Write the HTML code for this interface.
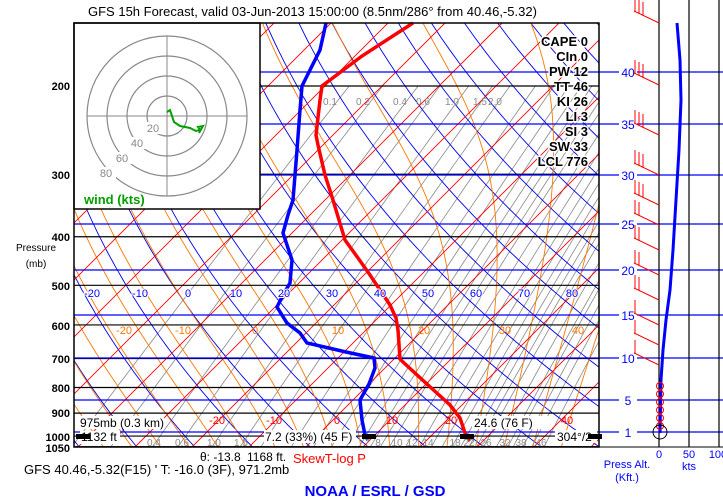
<!DOCTYPE html>
<html><head><meta charset="utf-8"><style>
html,body{margin:0;padding:0;background:#fff;width:723px;height:503px;overflow:hidden}
svg{display:block}
text{font-family:"Liberation Sans",sans-serif}
</style></head><body>
<svg id="s" width="723" height="503" xmlns="http://www.w3.org/2000/svg">
<defs><clipPath id="c"><rect x="74" y="23" width="525" height="424"/></clipPath></defs>
<g id="grid" clip-path="url(#c)"></g>
<g id="top"></g>
</svg>
<script>
const NS="http://www.w3.org/2000/svg";
const G=document.getElementById('grid'),T=document.getElementById('top');
function el(p,n,a,t){const e=document.createElementNS(NS,n);for(const k in a)e.setAttribute(k,a[k]);if(t!==undefined)e.textContent=t;p.appendChild(e);return e;}
function yp(p){return 86+217.5*Math.log(p/200);}
function xT(T,y){return 340+5.7*T-(y-413);}
function poly(p,pts,st,w,extra){const a={points:pts.map(q=>q[0].toFixed(1)+','+q[1].toFixed(1)).join(' '),fill:'none',stroke:st,'stroke-width':w};Object.assign(a,extra||{});return el(p,'polyline',a);}
// mixing ratio (gray)
[0.1,0.2,0.4,0.6,1,1.5,2,3,4,5,6,7,8,9,10,12,14,16,18,20,22,24,26,28,32,36,38,42,46,52].forEach(w=>{
 const pts=[];for(let p=1050;p>=200;p-=25){const e=w*p/(622+w);const l=Math.log(e/6.112);const td=243.5*l/(17.67-l);const y=yp(p);pts.push([xT(td,y),y]);}
 poly(G,pts,'#888',0.8);
});
// dry adiabats (blue)
for(let th=230;th<=560;th+=10){const pts=[];for(let p=1060;p>=140;p-=10){const T=th*Math.pow(p/1000,0.286)-273.15;const y=yp(p);pts.push([xT(T,y),y]);}poly(G,pts,'#0000ee',0.9);}
// moist adiabats (orange)
function es(T){return 6.112*Math.exp(17.67*T/(T+243.5));}
for(let T0=-40;T0<=45;T0+=5){let T=T0+273.15,pts=[];for(let p=1060;p>=150;p-=5){const y=yp(p);pts.push([xT(T-273.15,y),y]);const rs=0.622*es(T-273.15)/(p-es(T-273.15));const Lv=2.5e6,Rd=287,cp=1004;const dTdp=(Rd*T+Lv*rs)/(p*(cp+Lv*Lv*rs*0.622/(Rd*T*T)));T-=dTdp*5;}poly(G,pts,'#ff7700',0.9);}
// isotherms (red)
for(let t=-150;t<=60;t+=10){el(G,'line',{x1:xT(t,447),y1:447,x2:xT(t,23),y2:23,stroke:'#ff0000','stroke-width':0.9});}
// pressure lines
[200,300,400,500,600,700,800,900,1000,1050].forEach(p=>{const y=yp(p);el(G,'line',{x1:74,y1:y,x2:599,y2:y,stroke:'#000','stroke-width':1.2});});
[[40,72],[35,124],[30,175],[25,224],[20,270],[15,315],[10,358],[5,400],[1,432]].forEach(a=>{el(T,'line',{x1:74,y1:a[1],x2:723,y2:a[1],stroke:'#0000ff','stroke-width':1.2});
 el(T,'rect',{x:619,y:a[1]-7,width:18,height:14,fill:'#fff'});el(T,'text',{x:628,y:a[1]+5,'font-size':12,fill:'#0000ff','text-anchor':'middle'},a[0]);});
// profiles
poly(T,[[413,23],[362,56],[322,86],[320,100],[316,135],[318,145],[325,175],[333,200],[345,240],[358,258],[370,275],[380,290],[390,305],[396,318],[398,330],[400,359],[403,362],[428,385],[450,405],[460,418],[466,436],[470,441]],'#ff0000',3.5);
poly(T,[[326,23],[320,50],[305,80],[302,86],[300,110],[297,150],[293,200],[288,215],[283,233],[292,260],[290,283],[282,297],[277,307],[287,323],[300,333],[307,343],[346,352],[374,358],[375,368],[369,384],[360,400],[362,420],[365,435],[368,440]],'#0000ff',3.5);
// inset hodograph
el(T,'rect',{x:74,y:23,width:186,height:186,fill:'#fff',stroke:'#000','stroke-width':1.5});
[20,40,60,80].forEach(r=>el(T,'circle',{cx:167,cy:116,r:r,fill:'none',stroke:'#888','stroke-width':1.2}));
el(T,'line',{x1:87,y1:116,x2:247,y2:116,stroke:'#888'});el(T,'line',{x1:167,y1:36,x2:167,y2:196,stroke:'#888'});
[['20',153,132],['40',137,147],['60',122,162],['80',106,177]].forEach(a=>{el(T,'rect',{x:a[1]-10,y:a[2]-10,width:20,height:12,fill:'#fff'});el(T,'text',{x:a[1],y:a[2],'font-size':11,fill:'#888','text-anchor':'middle'},a[0]);});
poly(T,[[167,112],[170,110],[174,122],[180,126],[190,128],[196,131],[200,130],[198,127],[203,126],[199,133]],'#00a000',2);
el(T,'text',{x:84,y:204,'font-size':13,'font-weight':'bold',fill:'#00a000'},'wind (kts)');
el(T,'rect',{x:74,y:23,width:525,height:424,fill:'none',stroke:'#000','stroke-width':1.5});
// titles
el(T,'text',{x:88,y:16,'font-size':13},'GFS 15h Forecast, valid 03-Jun-2013 15:00:00 (8.5nm/286° from 40.46,-5.32)');
// stats
[['CAPE 0',46],['CIn 0',61],['PW 12',76],['TT 46',91],['KI 26',106],['LI 3',121],['SI 3',136],['SW 33',151],['LCL 776',166]].forEach(a=>{el(T,'text',{x:588,y:a[1],'font-size':13,'font-weight':'bold','text-anchor':'end',stroke:'#fff','stroke-width':3,'paint-order':'stroke'},a[0]);});
// pressure labels
[[200,86],[300,175],[400,237],[500,286],[600,326],[700,359],[800,388],[900,413],[1000,437],[1050,448]].forEach(a=>el(T,'text',{x:70,y:a[1]+4,'font-size':11,'font-weight':'bold','text-anchor':'end'},a[0]));
el(T,'text',{x:36,y:251,'font-size':10,'text-anchor':'middle'},'Pressure');el(T,'text',{x:36,y:267,'font-size':10,'text-anchor':'middle'},'(mb)');
[-20,-10,0,10,20,30,40,50,60,70,80].forEach((v,i)=>el(T,'text',{x:92+i*48,y:297,'font-size':11,fill:'#0000ff','text-anchor':'middle',stroke:'#fff','stroke-width':2,'paint-order':'stroke'},v));
[[-20,124],[-10,183],[0,255],[10,338],[20,424],[30,505],[40,578]].forEach(a=>el(T,'text',{x:a[1],y:334,'font-size':11,fill:'#ff7700','text-anchor':'middle'},a[0]));
[[-30,100],[-20,217],[-10,274],[0,337],[10,392],[20,451],[30,510],[40,567]].forEach(a=>el(T,'text',{x:a[1],y:424,'font-size':11,fill:'#ff0000','text-anchor':'middle'},a[0]));
[['0.1',330,105],['0.2',363,105],['0.4',400,105],['0.6',423,105],['1.0',452,105],['1.5',480,105],['2.0',495,105]].forEach(a=>el(T,'text',{x:a[1],y:a[2],'font-size':10,fill:'#888','text-anchor':'middle'},a[0]));
// bottom plot texts
el(T,'rect',{x:78,y:416,width:86,height:13,fill:'#fff'});el(T,'text',{x:80,y:427,'font-size':12},'975mb (0.3 km)');
el(T,'rect',{x:80,y:431,width:40,height:13,fill:'#fff'});el(T,'text',{x:81,y:441,'font-size':12},'1132 ft');
el(T,'rect',{x:264,y:430,width:92,height:13,fill:'#fff'});el(T,'text',{x:265,y:441,'font-size':12},'7.2 (33%) (45 F)');
el(T,'rect',{x:472,y:416,width:80,height:13,fill:'#fff'});el(T,'text',{x:474,y:427,'font-size':12},'24.6 (76 F)');
el(T,'rect',{x:555,y:430,width:42,height:13,fill:'#fff'});el(T,'text',{x:557,y:441,'font-size':12},'304°/2');
[[82,437],[368,437],[466,437],[594,437]].forEach(a=>el(T,'rect',{x:a[0]-6,y:a[1]-3,width:14,height:5,fill:'#000'}));
[['0.4',154],['0.6',182],['1.0',214],['1.5',241],['7',367],['8',378],['10',397],['12',412],['14',428],['18',455],['22',469],['26',486],['32',505],['38',521],['46',541]].forEach(a=>el(T,'text',{x:a[1],y:446,'font-size':10,fill:'#888','text-anchor':'middle'},a[0]));
el(T,'text',{x:200,y:461,'font-size':12},'θ: -13.8');el(T,'text',{x:247,y:461,'font-size':12},'1168 ft.');
el(T,'text',{x:24,y:474,'font-size':13},'GFS 40.46,-5.32(F15) \' T: -16.0 (3F), 971.2mb');
el(T,'text',{x:293,y:463,'font-size':13,fill:'#ff0000'},'SkewT-log P');
el(T,'text',{x:375,y:496,'font-size':15,'font-weight':'bold',fill:'#0000ff','text-anchor':'middle'},'NOAA / ESRL / GSD');
// right panel
[659,689,719].forEach(x=>el(T,'line',{x1:x,y1:0,x2:x,y2:447,stroke:'#000','stroke-width':1.2}));
el(T,'line',{x1:599,y1:447,x2:723,y2:447,stroke:'#000'});
[['0',659],['50',689],['100',718]].forEach(a=>el(T,'text',{x:a[1],y:458,'font-size':11,fill:'#0000ff','text-anchor':'middle'},a[0]));
el(T,'text',{x:689,y:470,'font-size':11,fill:'#0000ff','text-anchor':'middle'},'kts');
el(T,'text',{x:627,y:468,'font-size':11,fill:'#0000ff','text-anchor':'middle'},'Press Alt.');el(T,'text',{x:627,y:481,'font-size':11,fill:'#0000ff','text-anchor':'middle'},'(Kft.)');
poly(T,[[677,23],[680,60],[681,100],[679,150],[676,200],[673,250],[670,290],[666,320],[663,350],[661,380],[660,433]],'#0000ff',3);
// barbs (sparse)
[[23,3],[85,3],[135,3],[175,3],[205,3],[225,2],[250,2],[275,2],[300,2],[325,1],[345,1],[365,1]].forEach(b=>{const y=b[0];
 el(T,'line',{x1:659,y1:y,x2:634,y2:y-12,stroke:'#ff0000','stroke-width':1});
 for(let k=0;k<b[1];k++){const bx=635+k*4,by=y-11+k*2;el(T,'line',{x1:bx,y1:by,x2:bx,y2:by-14,stroke:'#ff0000','stroke-width':1});}});
[386,394,402,410,418,426].forEach(y=>el(T,'circle',{cx:660,cy:y,r:3.5,fill:'none',stroke:'#ff0000'}));
el(T,'circle',{cx:660,cy:432,r:7,fill:'none',stroke:'#000'});
</script>
</body></html>
